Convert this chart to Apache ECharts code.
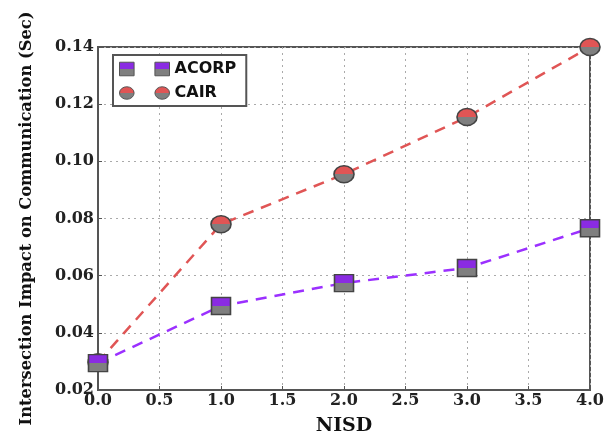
<!DOCTYPE html>
<html>
<head>
<meta charset="utf-8">
<script src="https://cdn.jsdelivr.net/npm/echarts@6/dist/echarts.min.js"></script>
<style>
  html, body { margin: 0; padding: 0; background: #fff; }
  #chart { width: 616px; height: 437px; }
</style>
</head>
<body>
<div id="chart"></div>
<script>
// data
var nisd = [0, 1, 2, 3, 4];
var acorp = [0.0294, 0.0494, 0.0574, 0.0627, 0.0766];
var cair = [0.0297, 0.0780, 0.0955, 0.1155, 0.1400];

var serif = 'DejaVu Serif';

function twoTone(top) {
    return {
        type: 'linear', x: 0, y: 0, x2: 0, y2: 1,
        colorStops: [
            { offset: 0, color: top },
            { offset: 0.5, color: top },
            { offset: 0.5, color: '#7f7f7f' },
            { offset: 1, color: '#7f7f7f' }
        ]
    };
}

function pairs(xs, ys) {
    return xs.map(function (x, i) { return [x, ys[i]]; });
}

var chart = echarts.init(document.getElementById('chart'));
chart.setOption({
    animation: false,
    grid: {
        left: 98,
        right: 26,
        top: 47,
        bottom: 47,
        containLabel: false,
        outerBoundsMode: 'none',
        show: true,
        borderColor: '#555',
        borderWidth: 2
    },
    legend: {
        left: 113,
        top: 55,
        orient: 'vertical',
        itemGap: 8,
        itemWidth: 50,
        itemHeight: 17,
        padding: [6, 10, 5, 6],
        borderColor: '#555',
        borderWidth: 2,
        backgroundColor: '#fff',
        textStyle: {
            fontFamily: 'DejaVu Sans',
            fontWeight: 'bold',
            fontSize: 16,
            color: '#111'
        },
        data: [
            {
                name: 'ACORP',
                icon: 'path://M0,0h14v13h-14z M34,0h14v13h-14z',
                itemStyle: { color: twoTone('#8a2be2'), borderColor: '#555', borderWidth: 1 }
            },
            {
                name: 'CAIR',
                icon: 'path://M0,6a7,6 0 1,0 14,0a7,6 0 1,0 -14,0z M34,6a7,6 0 1,0 14,0a7,6 0 1,0 -14,0z',
                itemStyle: { color: twoTone('#e05555'), borderColor: '#555', borderWidth: 1 }
            }
        ]
    },
    xAxis: {
        type: 'value',
        min: 0,
        max: 4,
        interval: 0.5,
        name: 'NISD',
        nameLocation: 'middle',
        nameGap: 27,
        nameTextStyle: { fontFamily: serif, fontWeight: 'bold', fontSize: 19, color: '#111' },
        axisLine: { lineStyle: { color: '#555', width: 2 } },
        axisTick: { inside: true, length: 4, lineStyle: { color: '#555' } },
        axisLabel: {
            margin: 3,
            fontFamily: serif,
            fontWeight: 'bold',
            fontSize: 16,
            color: '#222',
            formatter: function (v) { return v.toFixed(1); }
        },
        splitLine: { show: true, lineStyle: { color: '#aaa', type: [2, 4], width: 1 } }
    },
    yAxis: {
        type: 'value',
        min: 0.02,
        max: 0.14,
        interval: 0.02,
        name: 'Intersection Impact on Communication (Sec)',
        nameLocation: 'middle',
        nameGap: 63,
        nameTextStyle: { fontFamily: serif, fontWeight: 'bold', fontSize: 16.3, color: '#111' },
        axisLine: { lineStyle: { color: '#555', width: 2 } },
        axisTick: { inside: true, length: 4, lineStyle: { color: '#555' } },
        axisLabel: {
            margin: 4,
            fontFamily: serif,
            fontWeight: 'bold',
            fontSize: 16,
            color: '#222',
            formatter: function (v) { return v.toFixed(2); }
        },
        splitLine: { show: true, lineStyle: { color: '#aaa', type: [2, 4], width: 1 } }
    },
    series: [
        {
            name: 'ACORP',
            type: 'line',
            data: pairs(nisd, acorp),
            symbol: 'rect',
            symbolSize: [19, 17],
            lineStyle: { color: '#9b30ff', width: 2.5, type: [11, 8] },
            itemStyle: { color: twoTone('#8a2be2'), borderColor: '#444', borderWidth: 1.5 },
            z: 3
        },
        {
            name: 'CAIR',
            type: 'line',
            data: pairs(nisd, cair),
            symbol: 'circle',
            symbolSize: [20, 17],
            lineStyle: { color: '#e05555', width: 2.5, type: [11, 8] },
            itemStyle: { color: twoTone('#e05555'), borderColor: '#444', borderWidth: 1.5 },
            z: 2
        }
    ]
});
</script>
</body>
</html>
